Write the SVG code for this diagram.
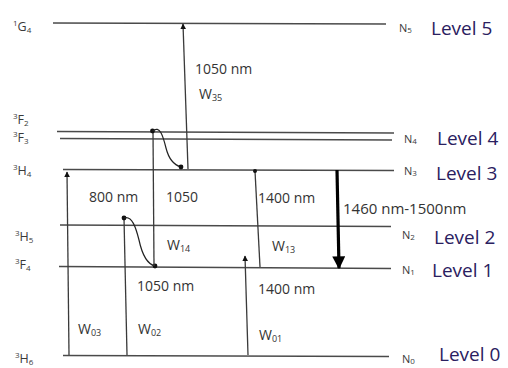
<svg xmlns="http://www.w3.org/2000/svg" width="508" height="368" viewBox="0 0 508 368">
<defs>
<style>
.lvl{stroke:#4a4a4a;stroke-width:1.4;fill:none}
.tr{stroke:#3a3a3a;stroke-width:1.3;fill:none}
.wavy{stroke:#222;stroke-width:1.2;fill:none}
.thick{stroke:#000;stroke-width:3.2;fill:none}
.dot{fill:#111}
.term{font-family:"Open Sans","Liberation Sans",sans-serif;font-size:12.5px;fill:#3a3a3a}
.sm{font-size:8px}
.n{font-family:"Open Sans","Liberation Sans",sans-serif;font-size:11px;fill:#3a3a3a}
.lv{font-family:"Open Sans","Liberation Sans",sans-serif;font-size:19px;fill:#2a2060}
.t{font-family:"Open Sans","Liberation Sans",sans-serif;font-size:14px;fill:#333}
.sub{font-size:9px}
</style>
<marker id="ah" viewBox="0 0 10 10" refX="9" refY="5" markerWidth="6" markerHeight="6" markerUnits="userSpaceOnUse" orient="auto">
<path d="M0,0 L10,5 L0,10 z" fill="#111"/>
</marker>
<marker id="ahb" viewBox="0 0 10 10" refX="9" refY="5" markerWidth="13" markerHeight="13" markerUnits="userSpaceOnUse" orient="auto">
<path d="M0,0 L10,5 L0,10 z" fill="#000"/>
</marker>
</defs>
<rect width="508" height="368" fill="#fff"/>

<g id="level5">
<line class="lvl" x1="53" y1="23" x2="386" y2="24"/>
<text class="term" x="13" y="31"><tspan class="sm" dy="-5">1</tspan><tspan dy="5">G</tspan><tspan class="sm" dy="2">4</tspan></text>
<text class="n" x="399" y="32">N<tspan class="sm" dy="1">5</tspan></text>
<text class="lv" x="431" y="35">Level 5</text>
</g>
<g id="level4">
<line class="lvl" x1="57" y1="131.5" x2="394" y2="133"/>
<line class="lvl" x1="60" y1="138.5" x2="392" y2="140"/>
<text class="term" x="13" y="124"><tspan class="sm" dy="-5">3</tspan><tspan dy="5">F</tspan><tspan class="sm" dy="2">2</tspan></text>
<text class="term" x="13" y="142"><tspan class="sm" dy="-5">3</tspan><tspan dy="5">F</tspan><tspan class="sm" dy="2">3</tspan></text>
<text class="n" x="404" y="143">N<tspan class="sm" dy="1">4</tspan></text>
<text class="lv" x="437" y="145">Level 4</text>
</g>
<g id="level3">
<line class="lvl" x1="63" y1="169.5" x2="394" y2="170.5"/>
<text class="term" x="13" y="175"><tspan class="sm" dy="-5">3</tspan><tspan dy="5">H</tspan><tspan class="sm" dy="2">4</tspan></text>
<text class="n" x="404" y="175">N<tspan class="sm" dy="1">3</tspan></text>
<text class="lv" x="436" y="180">Level 3</text>
</g>
<g id="level2">
<line class="lvl" x1="60" y1="225" x2="391" y2="226.5"/>
<text class="term" x="15" y="241"><tspan class="sm" dy="-5">3</tspan><tspan dy="5">H</tspan><tspan class="sm" dy="2">5</tspan></text>
<text class="n" x="402" y="239">N<tspan class="sm" dy="1">2</tspan></text>
<text class="lv" x="434" y="244">Level 2</text>
</g>
<g id="level1">
<line class="lvl" x1="59" y1="266.5" x2="391" y2="268.5"/>
<text class="term" x="15" y="269"><tspan class="sm" dy="-5">3</tspan><tspan dy="5">F</tspan><tspan class="sm" dy="2">4</tspan></text>
<text class="n" x="402" y="274">N<tspan class="sm" dy="1">1</tspan></text>
<text class="lv" x="432" y="277">Level 1</text>
</g>
<g id="level0">
<line class="lvl" x1="63" y1="355.5" x2="389" y2="356.5"/>
<text class="term" x="15" y="363"><tspan class="sm" dy="-5">3</tspan><tspan dy="5">H</tspan><tspan class="sm" dy="1.5">6</tspan></text>
<text class="n" x="402" y="363">N<tspan class="sm" dy="1">0</tspan></text>
<text class="lv" x="439" y="361">Level 0</text>
</g>

<g id="connectors">
<line class="tr" x1="69" y1="355" x2="67" y2="172" marker-end="url(#ah)"/>
<line class="tr" x1="127" y1="355" x2="124" y2="218"/>
<circle class="dot" cx="124" cy="218" r="2.4"/>
<path class="wavy" d="M124,218 C132,215 136,228 139,240 C142,254 147,264 155,266"/>
<circle class="dot" cx="155" cy="266" r="2.4"/>
<line class="tr" x1="154" y1="266" x2="153" y2="131"/>
<circle class="dot" cx="152.5" cy="131" r="2.4"/>
<path class="wavy" d="M152.5,131 C160,125 163,136 166,148 C169,160 174,165 181,167"/>
<circle class="dot" cx="181" cy="167" r="2.4"/>
<line class="tr" x1="188" y1="169" x2="183" y2="24" marker-end="url(#ah)"/>
<line class="tr" x1="260" y1="267" x2="255" y2="171"/>
<circle class="dot" cx="255" cy="171" r="2"/>
<line class="tr" x1="248" y1="355" x2="245" y2="256" marker-end="url(#ah)"/>
<line class="thick" x1="337" y1="170" x2="339" y2="268" marker-end="url(#ahb)"/>
</g>

<g id="labels">
<text class="t" x="195" y="74">1050 nm</text>
<text class="t" x="199" y="99">W<tspan class="sub" dy="2">35</tspan></text>
<text class="t" x="89" y="202">800 nm</text>
<text class="t" x="166" y="202">1050</text>
<text class="t" x="258" y="203">1400 nm</text>
<text class="t" x="343" y="214" style="font-size:15px">1460 nm-1500nm</text>
<text class="t" x="167" y="250">W<tspan class="sub" dy="2">14</tspan></text>
<text class="t" x="272" y="251">W<tspan class="sub" dy="2">13</tspan></text>
<text class="t" x="137" y="291">1050 nm</text>
<text class="t" x="258" y="294">1400 nm</text>
<text class="t" x="78" y="334">W<tspan class="sub" dy="2">03</tspan></text>
<text class="t" x="138" y="334">W<tspan class="sub" dy="2">02</tspan></text>
<text class="t" x="259" y="340">W<tspan class="sub" dy="2">01</tspan></text>
</g>
</svg>
